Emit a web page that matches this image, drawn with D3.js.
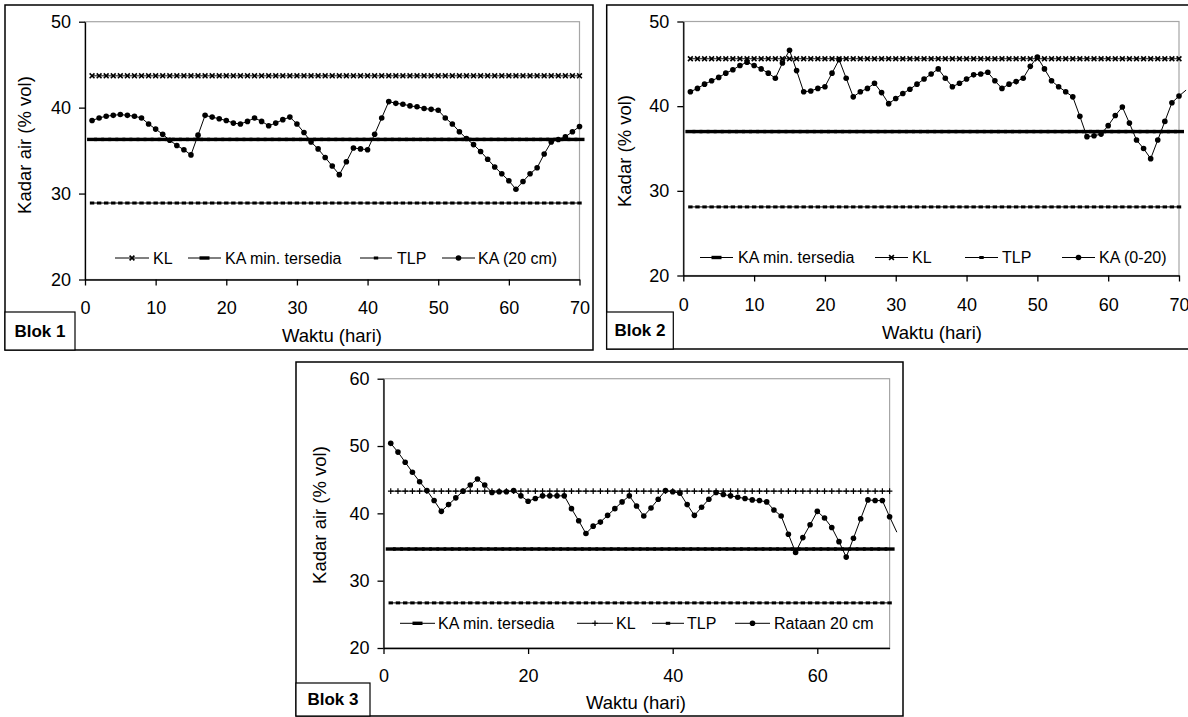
<!DOCTYPE html>
<html><head><meta charset="utf-8">
<script src="https://cdn.jsdelivr.net/npm/d3@7/dist/d3.min.js"></script>
<style>
body{margin:0;background:#fff;}
svg{display:block;font-family:"Liberation Sans",Arial,sans-serif;}
</style></head>
<body><svg id="c" width="1188" height="717"></svg>
<script>
// ---------------- DATA ----------------
const days = d3.range(1, 72); // day index 1..71
const xTicks70 = [0,10,20,30,40,50,60,70];
const xTicks3 = [0,20,40,60];
const yTicks12 = [20,30,40,50];
const yTicks3 = [20,30,40,50,60];

// Blok 1
const ka1 = [38.5,38.8,39.0,39.1,39.2,39.1,39.0,38.8,38.1,37.5,36.9,36.2,35.6,35.1,34.5,36.8,39.1,38.9,38.7,38.5,
  38.2,38.1,38.4,38.8,38.4,37.9,38.2,38.6,38.9,38.1,37.1,36.0,35.2,34.2,33.2,32.2,33.7,35.3,35.2,35.1,
  36.9,38.8,40.7,40.5,40.4,40.2,40.1,39.9,39.8,39.7,38.8,38.1,37.2,36.4,35.7,34.9,34.0,33.1,32.3,31.5,
  30.5,31.4,32.3,33.0,34.6,36.0,36.3,36.6,37.2,37.8];
const kl1 = 43.7, kamin1 = 36.3, tlp1 = 28.9;

// Blok 2
const ka2 = [41.7,42.1,42.6,43.0,43.4,43.9,44.3,44.8,45.2,44.8,44.4,43.9,43.3,45.1,46.6,44.2,41.7,41.8,42.1,42.3,
  43.9,45.5,43.3,41.1,41.7,42.1,42.7,41.6,40.3,40.9,41.5,42.0,42.6,43.2,43.8,44.4,43.3,42.3,42.7,43.2,
  43.7,43.8,44.0,43.0,42.1,42.6,42.9,43.3,44.7,45.8,44.4,43.0,42.3,41.7,41.1,38.8,36.4,36.5,36.7,37.7,
  38.9,39.9,38.0,36.0,35.0,33.8,36.0,38.2,40.4,41.2,41.9];
const kl2 = 45.6, kamin2 = 37.0, tlp2 = 28.1;

// Blok 3
const ka3 = [50.4,49.1,47.6,46.1,44.7,43.4,41.9,40.3,41.3,42.3,43.3,44.2,45.1,44.2,43.1,43.2,43.2,43.4,42.6,41.8,
  42.2,42.6,42.6,42.6,42.6,40.7,38.9,37.0,38.1,38.7,39.7,40.7,41.7,42.6,41.1,39.6,40.8,42.1,43.4,43.2,
  43.0,41.3,39.7,40.9,42.1,43.1,42.8,42.6,42.4,42.2,42.0,41.9,41.7,40.5,39.6,36.9,34.2,36.4,38.3,40.3,
  39.3,37.9,35.8,33.5,36.3,39.2,42.0,41.9,41.9,39.5,37.2];
const kl3 = 43.3, kamin3 = 34.7, tlp3 = 26.7;

const legend1 = ["KL","KA min. tersedia","TLP","KA (20 cm)"];
const legend2 = ["KA min. tersedia","KL","TLP","KA (0-20)"];
const legend3 = ["KA min. tersedia","KL","TLP","Rataan 20 cm"];

// ---------------- DRAWING ----------------
const svg = d3.select("#c");
const defs = svg.append("defs");

function markerDraw(g, type, cx, cy){
  if(type==="x"){
    g.append("path").attr("d",`M${cx-2.4},${cy-2.4}L${cx+2.4},${cy+2.4}M${cx-2.4},${cy+2.4}L${cx+2.4},${cy-2.4}`)
      .attr("stroke","#000").attr("stroke-width",1.6);
  } else if(type==="plus"){
    g.append("path").attr("d",`M${cx-2.8},${cy}L${cx+2.8},${cy}M${cx},${cy-2.8}L${cx},${cy+2.8}`)
      .attr("stroke","#000").attr("stroke-width",1.2);
  } else if(type==="dash"){
    g.append("rect").attr("x",cx-5).attr("y",cy-1.7).attr("width",10).attr("height",3.4).attr("fill","#000");
  } else if(type==="sq"){
    g.append("rect").attr("x",cx-2.2).attr("y",cy-1.5).attr("width",4.4).attr("height",3).attr("fill","#000");
  } else if(type==="dot"){
    g.append("circle").attr("cx",cx).attr("cy",cy).attr("r",2.8).attr("fill","#000");
  }
}

function drawPanel(cfg, idx){
  const g = svg.append("g");
  const b = cfg.box;
  g.append("rect").attr("x",b.x).attr("y",b.y).attr("width",b.w).attr("height",b.h)
    .attr("fill","#fff").attr("stroke","#000").attr("stroke-width",1.5);
  defs.append("clipPath").attr("id","clip"+idx).append("rect")
    .attr("x",b.x+1).attr("y",b.y+1).attr("width",b.w-2).attr("height",b.h-2);

  const x = d3.scaleLinear().domain([0,70]).range([cfg.x0,cfg.x1]);
  const y = d3.scaleLinear().domain(cfg.yDom).range([cfg.yBot,cfg.yTop]);

  g.append("rect").attr("x",cfg.x0).attr("y",cfg.yTop).attr("width",cfg.x1-cfg.x0).attr("height",cfg.yBot-cfg.yTop)
    .attr("fill","none").attr("stroke","#a6a6a6").attr("stroke-width",1.2);

  const ax = g.append("g").attr("transform",`translate(0,${cfg.yBot})`)
    .call(d3.axisBottom(x).tickValues(cfg.xTicks).tickSize(6).tickSizeOuter(0));
  ax.selectAll("text").attr("y",cfg.xLabDy).attr("dy","0.35em");
  const ay = g.append("g").attr("transform",`translate(${cfg.x0},0)`)
    .call(d3.axisLeft(y).tickValues(cfg.yTicks).tickSize(6).tickPadding(8).tickSizeOuter(0));
  [ax,ay].forEach(a=>{
    a.selectAll("path,line").attr("stroke","#000").attr("stroke-width",1.3);
    a.selectAll("text").attr("font-size",18).attr("fill","#000").attr("font-family","Liberation Sans, Arial, sans-serif");
  });

  const plotDays = days.filter(d => d <= 70);
  const series = g.append("g").attr("clip-path",`url(#clip${idx})`);
  const line = d3.line().x(d=>x(d[0])).y(d=>y(d[1]));

  function constSeries(v, type){
    const pts = plotDays.map(d=>[d,v]);
    series.append("path").attr("d",line(pts)).attr("fill","none").attr("stroke","#000").attr("stroke-width",1);
    const mg = series.append("g");
    pts.forEach(p=>markerDraw(mg,type,x(p[0]),y(p[1])));
  }
  constSeries(cfg.tlp,"sq");
  constSeries(cfg.kamin,"dash");
  constSeries(cfg.kl,cfg.klType);

  const kaPts = cfg.ka.map((v,i)=>[days[i],v]);
  series.append("path").attr("d",line(kaPts)).attr("fill","none").attr("stroke","#000").attr("stroke-width",1);
  const dg = series.append("g");
  kaPts.filter(p=>p[0]<=70).forEach(p=>markerDraw(dg,"dot",x(p[0]),y(p[1])));

  const lg = g.append("g");
  cfg.legend.forEach((it,i)=>{
    lg.append("line").attr("x1",it.l0).attr("x2",it.l1).attr("y1",cfg.legY).attr("y2",cfg.legY)
      .attr("stroke","#000").attr("stroke-width",1);
    markerDraw(lg,it.m,(it.l0+it.l1)/2,cfg.legY);
    lg.append("text").attr("x",it.t).attr("y",cfg.legY).attr("dy","0.35em")
      .attr("font-size",16).text(cfg.labels[i]);
  });

  g.append("text").attr("transform",`translate(${cfg.yTitle[0]},${cfg.yTitle[1]}) rotate(-90)`)
    .attr("text-anchor","middle").attr("dy","0.35em").attr("font-size",18.5).text(cfg.yTitleText);
  g.append("text").attr("x",cfg.xTitle[0]).attr("y",cfg.xTitle[1]).attr("text-anchor","middle")
    .attr("dy","0.35em").attr("font-size",18.5).text("Waktu (hari)");

  const bl = cfg.blok;
  g.append("rect").attr("x",bl.x).attr("y",bl.y).attr("width",bl.w).attr("height",bl.h)
    .attr("fill","#fff").attr("stroke","#000").attr("stroke-width",1.2);
  g.append("text").attr("x",bl.x+bl.w/2).attr("y",bl.y+bl.h/2).attr("dy","0.35em").attr("text-anchor","middle")
    .attr("font-weight","bold").attr("font-size",17).text(cfg.blokText);
}

drawPanel({
  box:{x:5,y:5,w:588,h:345}, x0:85, x1:579.5, yTop:21.7, yBot:279.5, yDom:[20,50],
  xTicks:xTicks70, yTicks:yTicks12, xLabDy:28.5,
  ka:ka1, kl:kl1, kamin:kamin1, tlp:tlp1, klType:"x",
  legY:258, labels:legend1,
  legend:[{l0:115,l1:149,t:153,m:"x"},{l0:188,l1:221,t:225,m:"dash"},{l0:360,l1:392,t:397,m:"sq"},{l0:442,l1:475,t:478,m:"dot"}],
  yTitle:[25,145], yTitleText:"Kadar air (% vol)", xTitle:[332,336],
  blok:{x:5,y:312,w:70,h:38}, blokText:"Blok 1"
},1);

drawPanel({
  box:{x:606.7,y:5,w:600,h:344}, x0:683.3, x1:1179, yTop:21.5, yBot:275.5, yDom:[20,50],
  xTicks:xTicks70, yTicks:yTicks12, xLabDy:29.5,
  ka:ka2, kl:kl2, kamin:kamin2, tlp:tlp2, klType:"x",
  legY:257.5, labels:legend2,
  legend:[{l0:700,l1:733,t:738,m:"dash"},{l0:875,l1:908,t:912,m:"x"},{l0:965,l1:998,t:1002,m:"sq"},{l0:1062,l1:1095,t:1099,m:"dot"}],
  yTitle:[625,151], yTitleText:"Kadar (% vol)", xTitle:[932,333],
  blok:{x:606.7,y:312,w:66.6,h:37}, blokText:"Blok 2"
},2);

drawPanel({
  box:{x:296,y:362,w:607,h:354}, x0:383.5, x1:889.6, yTop:378.7, yBot:648, yDom:[20,60],
  xTicks:xTicks3, yTicks:yTicks3, xLabDy:28,
  ka:ka3, kl:kl3, kamin:kamin3, tlp:tlp3, klType:"plus",
  legY:623.3, labels:legend3,
  legend:[{l0:400,l1:435,t:438,m:"dash"},{l0:577,l1:613,t:616,m:"plus"},{l0:652,l1:684,t:687,m:"sq"},{l0:735,l1:770,t:774,m:"dot"}],
  yTitle:[320,515], yTitleText:"Kadar air (% vol)", xTitle:[636,703],
  blok:{x:296,y:683,w:74,h:33}, blokText:"Blok 3"
},3);
</script></body></html>
